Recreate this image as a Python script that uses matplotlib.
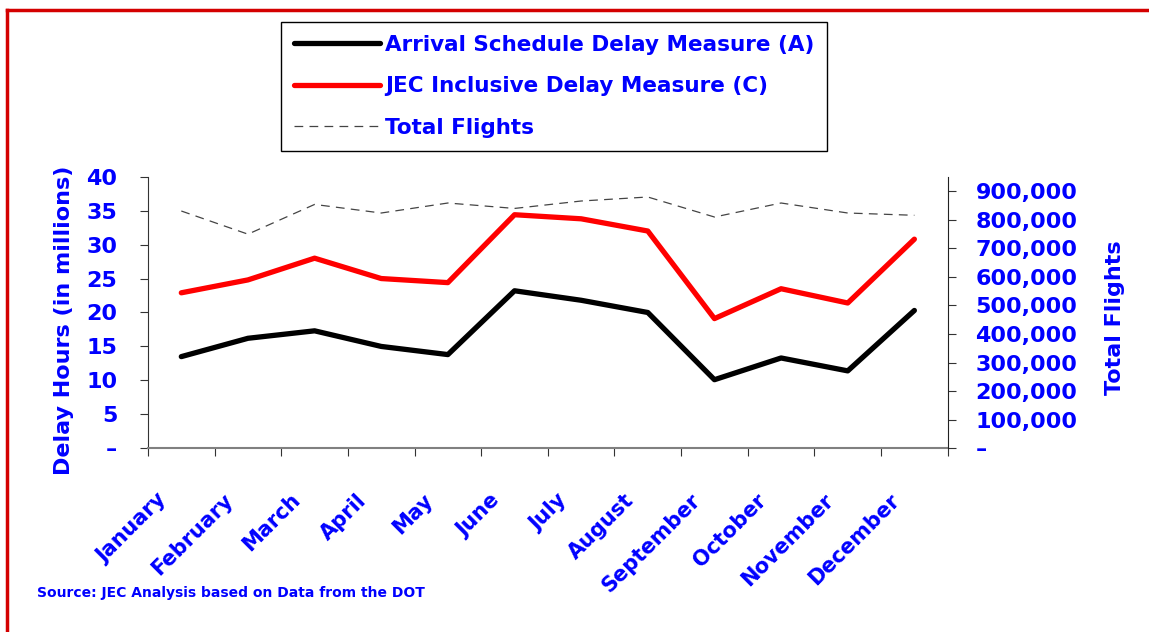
import matplotlib.pyplot as plt
from matplotlib.lines import Line2D
from matplotlib.ticker import FuncFormatter, MultipleLocator

months = ['January', 'February', 'March', 'April', 'May', 'June',
          'July', 'August', 'September', 'October', 'November', 'December']
arrival_delay = [13.5, 16.2, 17.3, 15.0, 13.8, 23.2, 21.8, 20.0, 10.1, 13.3, 11.4, 20.3]
jec_delay = [22.9, 24.8, 28.0, 25.0, 24.4, 34.4, 33.8, 32.0, 19.1, 23.5, 21.4, 30.8]
total_flights = [830000, 749000, 853000, 823000, 858000, 839000,
                 865000, 879000, 809000, 858000, 823000, 815000]

blue = '#0000ff'
plt.rcParams['font.family'] = 'DejaVu Sans'
plt.rcParams['font.weight'] = 'bold'

fig = plt.figure(figsize=(11.49, 6.32), dpi=100)
ax = fig.add_axes([0.1288, 0.2907, 0.6960, 0.4297])
ax2 = ax.twinx()

x = range(len(months))
l1, = ax.plot(x, arrival_delay, color='black', lw=3.8, solid_capstyle='round')
l2, = ax.plot(x, jec_delay, color='#ff0000', lw=3.8, solid_capstyle='round')
l3, = ax2.plot(x, total_flights, color='#444444', lw=0.9, dashes=(7, 5))

ax.set_xlim(-0.5, 11.5)
ax.set_ylim(0, 40)
ax2.set_ylim(0, 950000)
ax.yaxis.set_major_locator(MultipleLocator(5))
ax2.yaxis.set_major_locator(MultipleLocator(100000))
ax.yaxis.set_major_formatter(FuncFormatter(lambda v, p: '–' if v == 0 else f'{v:.0f}'))
ax2.yaxis.set_major_formatter(FuncFormatter(lambda v, p: '–' if v == 0 else f'{v:,.0f}'))

# tick marks between categories; labels nudged a bit left of the centers
ax.set_xticks([i - 0.5 for i in range(13)])
ax.set_xticklabels([])
ax.set_xticks([i - 0.37 for i in x], minor=True)
ax.set_xticklabels(months, minor=True, rotation=45, ha='right', va='top',
                   rotation_mode='anchor', color=blue, fontsize=15)
ax.tick_params(axis='x', which='minor', length=0, pad=30)
ax.tick_params(axis='x', which='major', length=6, color='#333333')

ax.tick_params(axis='y', length=6, color='#333333', labelcolor=blue, labelsize=16, pad=16)
ax2.tick_params(axis='y', length=6, color='#333333', labelcolor=blue, labelsize=16, pad=14)

for a in (ax, ax2):
    a.spines['top'].set_visible(False)
ax.spines['right'].set_visible(False)
ax.spines['bottom'].set_color('#808080')
ax.spines['bottom'].set_linewidth(1.5)
ax.spines['left'].set_color('#333333')
ax2.spines['left'].set_visible(False)
ax2.spines['bottom'].set_visible(False)
ax2.spines['right'].set_color('#222222')

ax.set_ylabel('Delay Hours (in millions)', color=blue, fontsize=16,
              fontweight='bold', labelpad=9)
ax2.set_ylabel('Total Flights', color=blue, fontsize=16,
               fontweight='bold', labelpad=20)
ax.yaxis.label.set_y(0.47)
ax2.yaxis.label.set_y(0.48)

leg = fig.legend([l1, l2, l3],
                 ['Arrival Schedule Delay Measure (A)',
                  'JEC Inclusive Delay Measure (C)',
                  'Total Flights'],
                 loc='upper left', bbox_to_anchor=(281 / 1149, 1 - 22 / 632),
                 borderaxespad=0, fontsize=15.5, handlelength=4.0, handletextpad=0.22,
                 labelspacing=1.0, borderpad=0.6, fancybox=False,
                 edgecolor='black', framealpha=1)
for t in leg.get_texts():
    t.set_color(blue)
leg.get_frame().set_linewidth(1.0)

fig.text(37 / 1149, 1 - 593 / 632, 'Source: JEC Analysis based on Data from the DOT',
         color=blue, fontsize=10, fontweight='bold', va='center')

# red frame on the left and top edges
fig.add_artist(Line2D([7 / 1149, 7 / 1149], [0, 1 - 10 / 632], color='#d40000', lw=2.5,
                      transform=fig.transFigure))
fig.add_artist(Line2D([7 / 1149, 1], [1 - 10 / 632, 1 - 10 / 632], color='#d40000', lw=2.5,
                      transform=fig.transFigure))

fig.savefig('out.png', dpi=100)
